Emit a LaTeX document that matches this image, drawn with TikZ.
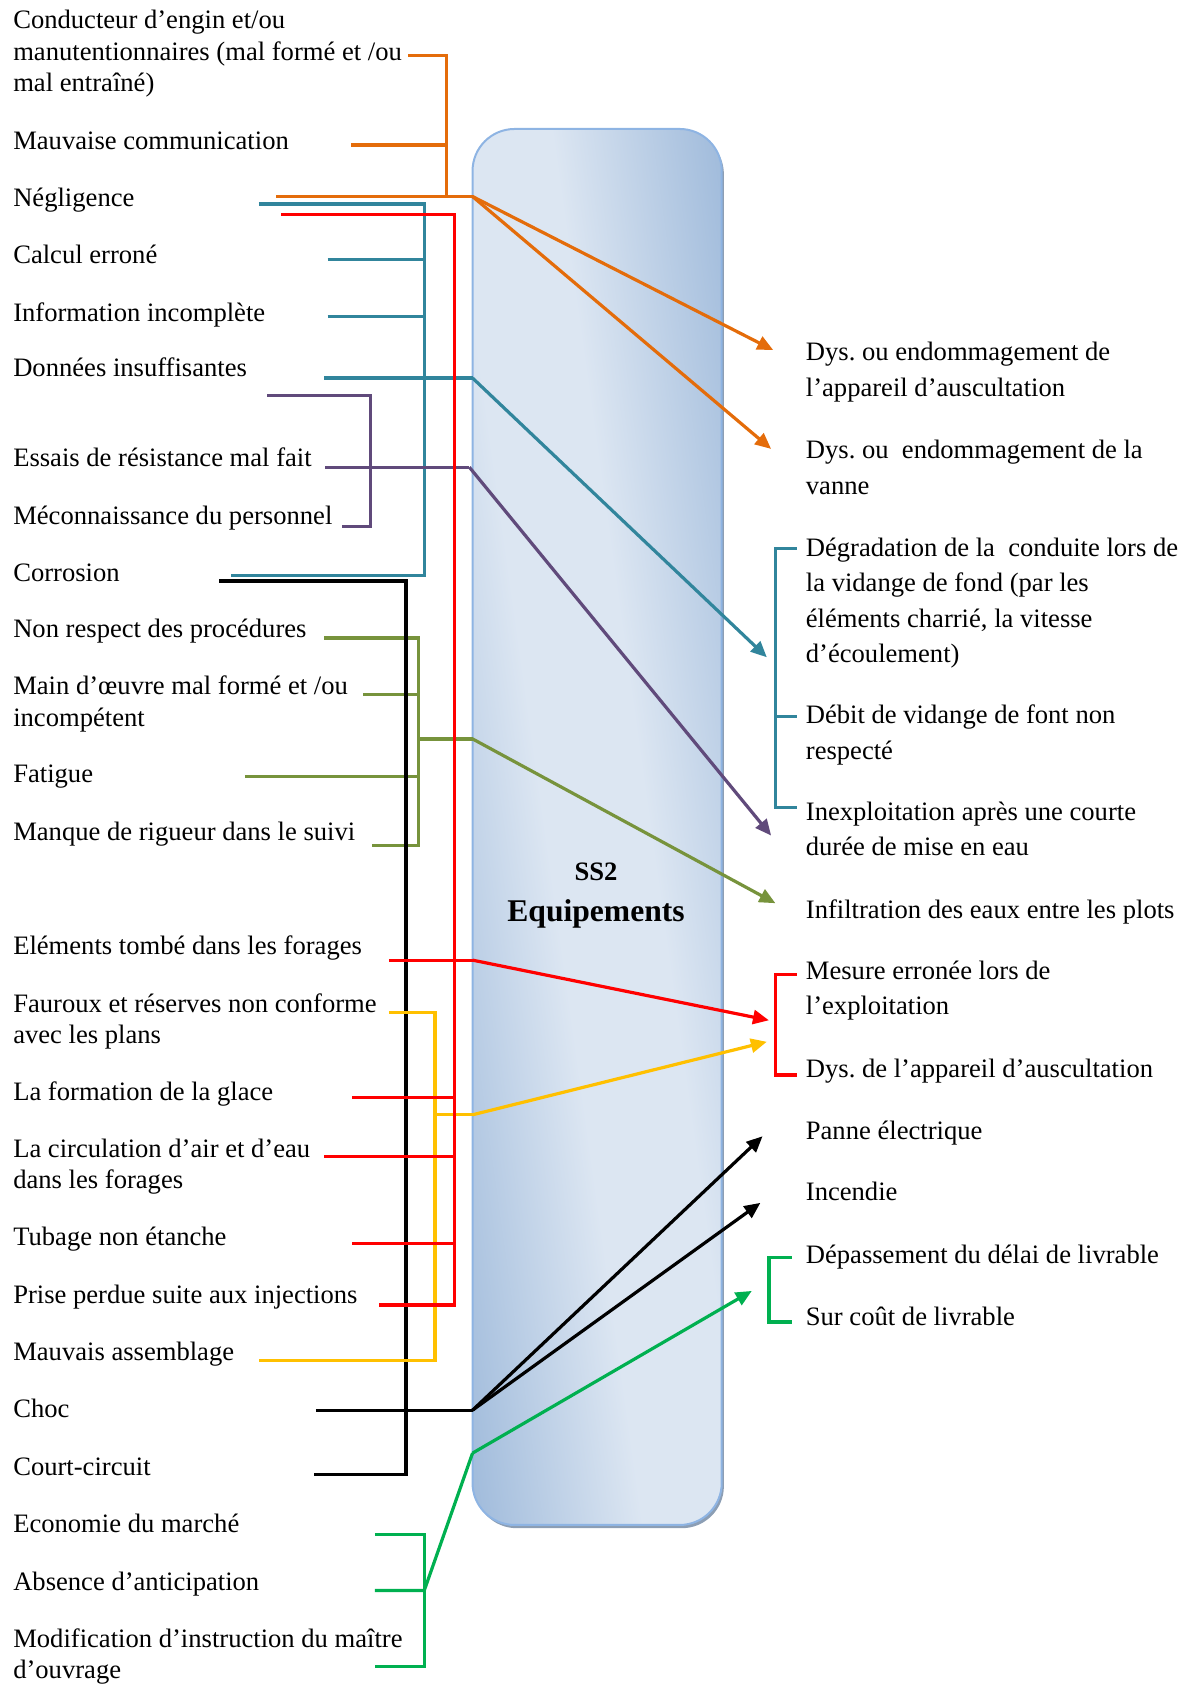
\documentclass[tikz,border=0pt]{standalone}
\usepackage{fontspec}
\setmainfont{Liberation Serif}
\usetikzlibrary{arrows.meta}
\definecolor{CauseOrange}{HTML}{E46C0A}
\definecolor{CauseTeal}  {HTML}{31859C}
\definecolor{CausePurple}{HTML}{604A7B}
\definecolor{CauseOlive} {HTML}{77933C}
\definecolor{CauseRed}   {HTML}{FF0000}
\definecolor{CauseYellow}{HTML}{FFC000}
\definecolor{CauseGreen} {HTML}{00B050}
\definecolor{BoxLight}   {HTML}{DCE6F2}
\definecolor{BoxDark}    {HTML}{95B3D7}
\definecolor{BoxEdge}    {HTML}{8EB4E3}
\pgfdeclarehorizontalshading{blockshade}{100bp}{color(0bp)=(BoxDark);
  color(21bp)=(BoxDark); color(44bp)=(BoxLight); color(56bp)=(BoxLight);
  color(79bp)=(BoxDark); color(100bp)=(BoxDark)}

\begin{document}
\frenchspacing
\begin{tikzpicture}[x=0.537pt, y=-0.537pt,
  cause/.style ={anchor=base west, inner sep=0pt, align=left,
                 font=\fontsize{13.3}{15.6}\selectfont},
  effect/.style={anchor=base west, inner sep=0pt, align=left,
                 font=\fontsize{13.3}{17.7}\selectfont},
  box/.style   ={rectangle, rounded corners=21pt, minimum width=124.6pt,
                 minimum height=698pt, inner sep=0pt},
  feed/.style  ={line width=1.6pt},
  arr/.style   ={-{Triangle[length=8pt,width=7pt]}, line width=1.6pt}
]
\useasboundingbox (0,0) rectangle (1108,1568);

% central block
\node[box, fill=BoxDark!60!gray] (shadow) at (558,773) {};
\begin{scope}
  \clip[rounded corners=21pt] (440,120) rectangle (672,1420);
  \shade[shading=blockshade, transform canvas={rotate around={8:(556,770)}}]
        (356,-100) rectangle (756,1640);
\end{scope}
\node[box, draw=BoxEdge, line width=1pt] (ss) at (556,770) {};
\node[anchor=base, inner sep=0pt, font=\fontsize{13.3}{16}\bfseries\selectfont]
     (ssname) at (555,820) {SS2};
\node[anchor=base, inner sep=0pt, font=\fontsize{15.8}{19}\bfseries\selectfont]
     (ssequip) at (555,858) {Equipements};

% causes (anchor = baseline of the last line)
\node[cause] (cond)   at (12,85)   {Conducteur d’engin et/ou\\manutentionnaires (mal formé et /ou\\mal entraîné)};
\node[cause] (mcom)   at (12,139)  {Mauvaise communication};
\node[cause] (negl)   at (12,192)  {Négligence};
\node[cause] (calc)   at (12,245)  {Calcul erroné};
\node[cause] (info)   at (12,299)  {Information incomplète};
\node[cause] (donn)   at (12,351)  {Données insuffisantes};
\node[cause] (essai)  at (12,434)  {Essais de résistance mal fait};
\node[cause] (mecon)  at (12,488)  {Méconnaissance du personnel};
\node[cause] (corr)   at (12,541)  {Corrosion};
\node[cause] (nonr)   at (12,594)  {Non respect des procédures};
\node[cause] (mainoe) at (12,676)  {Main d’œuvre mal formé et /ou\\incompétent};
\node[cause] (fatig)  at (12,729)  {Fatigue};
\node[cause] (manq)   at (12,783)  {Manque de rigueur dans le suivi};
\node[cause] (elem)   at (12,889)  {Eléments tombé dans les forages};
\node[cause] (faur)   at (12,972)  {Fauroux et réserves non conforme\\avec les plans};
\node[cause] (glace)  at (12,1025) {La formation de la glace};
\node[cause] (circ)   at (12,1107) {La circulation d’air et d’eau\\dans les forages};
\node[cause] (tub)    at (12,1160) {Tubage non étanche};
\node[cause] (prise)  at (12,1214) {Prise perdue suite aux injections};
\node[cause] (assem)  at (12,1267) {Mauvais assemblage};
\node[cause] (choc)   at (12,1320) {Choc};
\node[cause] (court)  at (12,1374) {Court-circuit};
\node[cause] (eco)    at (12,1427) {Economie du marché};
\node[cause] (absc)   at (12,1481) {Absence d’anticipation};
\node[cause] (modif)  at (12,1563) {Modification d’instruction du maître\\d’ouvrage};

% effects
\node[effect] (dysapp) at (750,369)  {Dys. ou endommagement de\\l’appareil d’auscultation};
\node[effect] (dysvan) at (750,460)  {Dys. ou\ \ endommagement de la\\vanne};
\node[effect] (degr)   at (750,617)  {Dégradation de la\ \ conduite lors de\\la vidange de fond (par les\\éléments charrié, la vitesse\\d’écoulement)};
\node[effect] (debit)  at (750,707)  {Débit de vidange de font non\\respecté};
\node[effect] (inexp)  at (750,797)  {Inexploitation après une courte\\durée de mise en eau};
\node[effect] (infil)  at (750,855)  {Infiltration des eaux entre les plots};
\node[effect] (mesur)  at (750,945)  {Mesure erronée lors de\\l’exploitation};
\node[effect] (dysaus) at (750,1003) {Dys. de l’appareil d’auscultation};
\node[effect] (panne)  at (750,1061) {Panne électrique};
\node[effect] (incend) at (750,1118) {Incendie};
\node[effect] (depas)  at (750,1176) {Dépassement du délai de livrable};
\node[effect] (surc)   at (750,1234) {Sur coût de livrable};

% hubs at the edge of the block
\coordinate (hOrange) at (440,183);
\coordinate (hTeal)   at (440,352);
\coordinate (hPurple) at (437,435);
\coordinate (hOlive)  at (440,688);
\coordinate (hRed)    at (440,894);
\coordinate (hYellow) at (440,1038);
\coordinate (hBlack)  at (440,1313);
\coordinate (hGreen)  at (440,1353);

% orange group
\draw[feed, CauseOrange] (380,52) -| (416,183);
\draw[feed, CauseOrange] (327,135) -- (416,135);
\draw[feed, CauseOrange] (257,183) -- (hOrange);
\draw[arr, CauseOrange] (hOrange) -- (720,326);
\draw[arr, CauseOrange] (hOrange) -- (718,418);

% teal group
\draw[feed, CauseTeal] (241,190) -| (395,536) -- (215,536);
\draw[feed, CauseTeal] (305,242) -- (395,242);
\draw[feed, CauseTeal] (305,295) -- (395,295);
\draw[feed, CauseTeal] (302,352) -- (hTeal);
\draw[arr, CauseTeal] (hTeal) -- (714,612);
\draw[feed, CauseTeal] (742,511) -| (722,752) -- (742,752);
\draw[feed, CauseTeal] (722,667) -- (742,667);

% purple group
\draw[feed, CausePurple] (249,368) -| (345,490) -- (318,490);
\draw[feed, CausePurple] (303,435) -- (hPurple);
\draw[arr, CausePurple] (hPurple) -- (718,778);

% olive group
\draw[feed, CauseOlive] (302,594) -| (390,787) -- (346,787);
\draw[feed, CauseOlive] (338,647) -- (390,647);
\draw[feed, CauseOlive] (228,723) -- (390,723);
\draw[feed, CauseOlive] (390,688) -- (hOlive);
\draw[arr, CauseOlive] (hOlive) -- (722,841);

% black group
\draw[feed, black] (204,541) -| (378,1373) -- (292,1373);
\draw[feed, black] (294,1313) -- (hBlack);
\draw[arr, black] (hBlack) -- (710,1058);
\draw[arr, black] (hBlack) -- (708,1120);

% yellow group
\draw[feed, CauseYellow] (362,943) -| (405,1267) -- (241,1267);
\draw[feed, CauseYellow] (405,1038) -- (hYellow);
\draw[arr, CauseYellow] (hYellow) -- (714,970);

% red group
\draw[feed, CauseRed] (262,200) -| (423,1215) -- (353,1215);
\draw[feed, CauseRed] (362,894) -- (hRed);
\draw[feed, CauseRed] (328,1022) -- (423,1022);
\draw[feed, CauseRed] (302,1077) -- (423,1077);
\draw[feed, CauseRed] (328,1158) -- (423,1158);
\draw[arr, CauseRed] (hRed) -- (716,950);
\draw[feed, CauseRed] (742,907) -| (722,1001) -- (742,1001);

% green group
\draw[feed, CauseGreen] (349,1429) -| (395,1552) -- (349,1552);
\draw[feed, CauseGreen] (349,1481) -- (395,1481) -- (hGreen);
\draw[arr, CauseGreen] (hGreen) -- (700,1202);
\draw[feed, CauseGreen] (737,1171) -| (716,1231) -- (737,1231);
\end{tikzpicture}
\end{document}
